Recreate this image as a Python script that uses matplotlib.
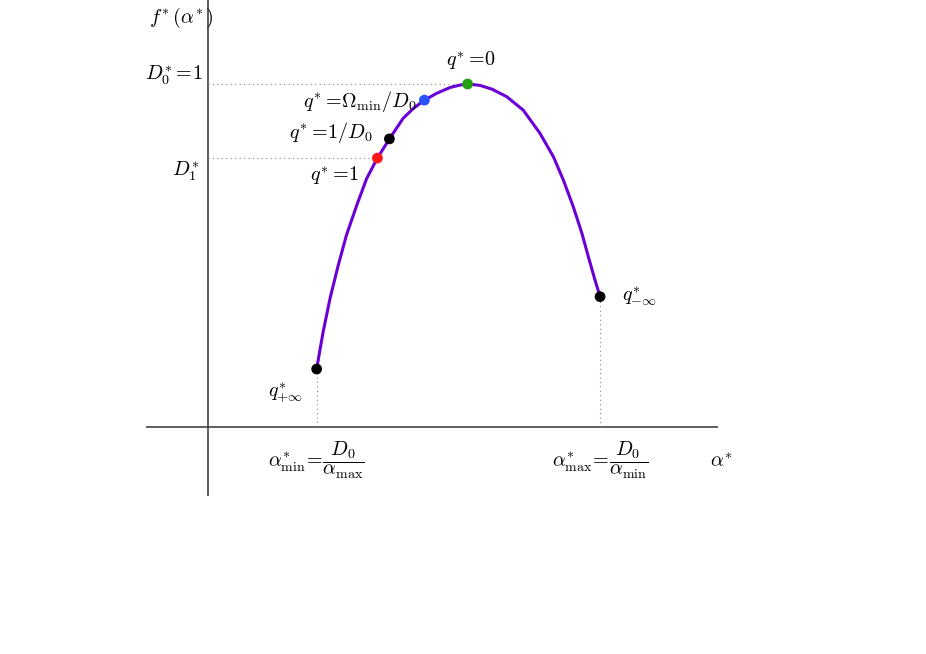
import matplotlib.pyplot as plt
import numpy as np

plt.rcParams['mathtext.fontset'] = 'cm'
plt.rcParams['font.family'] = 'DejaVu Serif'

# f(alpha) spectrum (schematic units, D0* = 1)
alpha_curve = [0.317, 0.324, 0.336, 0.356, 0.380, 0.404, 0.434, 0.463, 0.494, 0.529,
               0.569, 0.599, 0.631, 0.667, 0.706, 0.735, 0.757, 0.793, 0.828, 0.871,
               0.919, 0.968, 1.007, 1.036, 1.065, 1.090, 1.109, 1.128, 1.143]
f_curve = [0.169, 0.210, 0.278, 0.375, 0.472, 0.560, 0.647, 0.725, 0.784, 0.840,
           0.900, 0.929, 0.953, 0.973, 0.990, 0.997, 1.000, 0.996, 0.985, 0.963,
           0.924, 0.856, 0.788, 0.720, 0.642, 0.565, 0.496, 0.429, 0.380]

# marked points: q=+inf, q=1, q=1/D0, q=Omega_min/D0, q=0, q=-inf
point_alpha = [0.317, 0.494, 0.529, 0.631, 0.757, 1.143]
point_f = [0.169, 0.784, 0.840, 0.953, 1.000, 0.380]
point_colors = ['black', '#ff1a1a', 'black', '#2a52ff', '#22a010', 'black']
point_labels = [r'$q^{\!*}_{+\infty}$', r'$q^{\!*}\!=\!1$', r'$q^{\!*}\!=\!1/D_0$',
                r'$q^{\!*}\!=\!\Omega_{\min}/D_0$', r'$q^{\!*}\!=\!0$', r'$q^{\!*}_{-\infty}$']
# label offsets in pixels and alignment
label_offsets = [(-31, -23), (-19, -18), (-17, 6), (-8, -1), (3, 23), (22, 1)]
label_ha = ['center', 'right', 'right', 'right', 'center', 'left']

D1 = 0.784

fig = plt.figure(figsize=(9.26, 6.54), dpi=100)
ax = fig.add_axes([0, 0, 1, 1])
ax.set_xlim(-0.606, 2.093)
ax.set_ylim(-0.662, 1.245)
ax.axis('off')

# axes lines
ax.plot([-0.181, 1.487], [0, 0], color='#333333', lw=1.1, solid_capstyle='butt')
ax.plot([0, 0], [-0.201, 1.245], color='#333333', lw=1.1, solid_capstyle='butt')

# dotted guide lines
guide = dict(color='#888888', lw=0.8, ls=(0, (1, 3)))
ax.plot([0, point_alpha[4]], [1, 1], **guide)
ax.plot([0, point_alpha[1]], [D1, D1], **guide)
ax.plot([point_alpha[0], point_alpha[0]], [0, point_f[0]], **guide)
ax.plot([point_alpha[5], point_alpha[5]], [0, point_f[5]], **guide)

ax.plot(alpha_curve, f_curve, color='#6a00d6', lw=2.2, solid_joinstyle='round',
        solid_capstyle='round', zorder=3)
ax.scatter(point_alpha, point_f, c=point_colors, s=60, zorder=4, edgecolors='none')

fs = 14.5
for a, f, lab, off, ha in zip(point_alpha, point_f, point_labels, label_offsets, label_ha):
    ax.annotate(lab, xy=(a, f), xytext=off, textcoords='offset pixels',
                ha=ha, va='center', fontsize=fs)

# y axis annotations
ax.annotate(r'$f^{\!*}(\alpha^{\!*})$', xy=(0, 1.245), xytext=(-27, -18), textcoords='offset pixels',
            ha='center', va='center', fontsize=fs)
ax.annotate(r'$D_0^{\!*}\!=\!1$', xy=(0, 1), xytext=(-5, 9), textcoords='offset pixels',
            ha='right', va='center', fontsize=fs)
ax.annotate(r'$D_1^{\!*}$', xy=(0, D1), xytext=(-8, -13), textcoords='offset pixels',
            ha='right', va='center', fontsize=fs)

# x axis annotations
ax.annotate(r'$\alpha^{\!*}_{\min}\!=\!\dfrac{D_0}{\alpha_{\max}}$', xy=(point_alpha[0], 0),
            xytext=(0, -33), textcoords='offset pixels', ha='center', va='center', fontsize=fs)
ax.annotate(r'$\alpha^{\!*}_{\max}\!=\!\dfrac{D_0}{\alpha_{\min}}$', xy=(point_alpha[5], 0),
            xytext=(0, -33), textcoords='offset pixels', ha='center', va='center', fontsize=fs)
ax.annotate(r'$\alpha^{\!*}$', xy=(1.487, 0), xytext=(3, -35), textcoords='offset pixels',
            ha='center', va='center', fontsize=fs)

fig.savefig('out.png', dpi=100)
